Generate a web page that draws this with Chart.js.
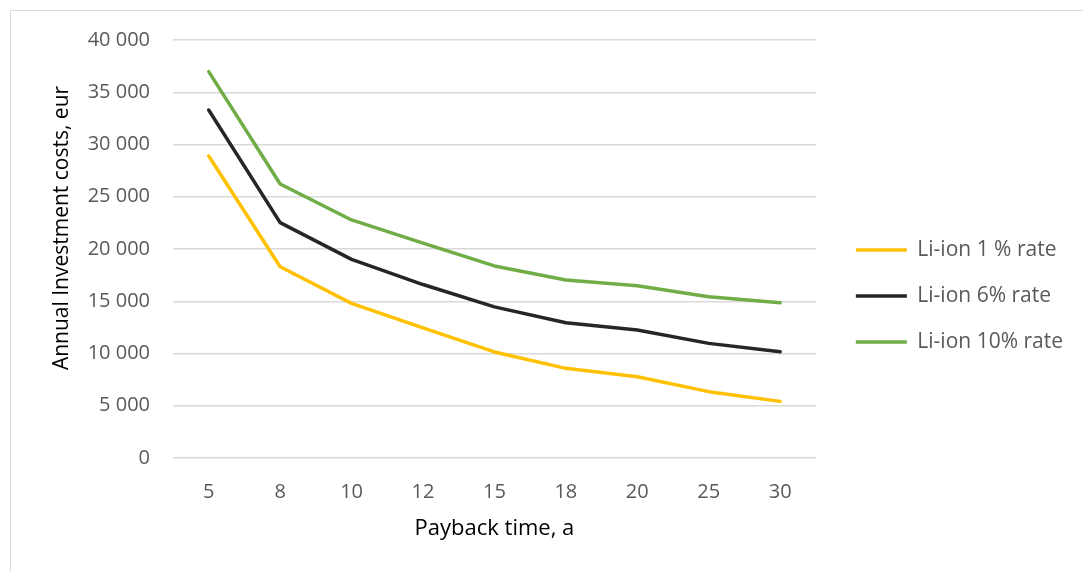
<!DOCTYPE html>
<html>
<head>
<meta charset="utf-8">
<script src="https://cdn.jsdelivr.net/npm/chart.js@4/dist/chart.umd.min.js"></script>
<style>
  html, body { margin: 0; padding: 0; background: #ffffff; }
  #wrap { position: relative; width: 1083px; height: 571px; overflow: hidden; }
  #frame { position: absolute; left: 10px; top: 10px; width: 1200px; height: 700px;
           border: 1.5px solid #d9d9d9; box-sizing: border-box; }
  #chart { position: absolute; left: 0; top: 0; }
</style>
</head>
<body>
<div id="wrap">
  <div id="frame"></div>
  <canvas id="chart" width="1083" height="571"></canvas>
</div>
<script>
// Payback period in years (category axis)
const paybackYears = ['5', '8', '10', '12', '15', '18', '20', '25', '30'];

// Annual investment costs, eur, for each interest rate
const liIon1 = [28900, 18300, 14800, 12450, 10150, 8580, 7780, 6350, 5420];
const liIon6 = [33300, 22520, 19010, 16600, 14460, 12950, 12250, 10970, 10170];
const liIon10 = [36970, 26220, 22780, 20560, 18380, 17040, 16480, 15430, 14860];

const seriesNames = ['Li-ion 1 % rate', 'Li-ion 6% rate', 'Li-ion 10% rate'];
const seriesColors = ['#FFC000', '#262626', '#70AD47'];

// Y axis: 0 .. 40 000 in steps of 5 000
const yMin = 0;
const yMax = 40000;
const yStep = 5000;

const FONT = "'Open Sans', 'Noto Sans', sans-serif";

function spaced(v) {
  return String(v).replace(/\B(?=(\d{3})+(?!\d))/g, ' ');
}

const seriesValues = [liIon1, liIon6, liIon10];

new Chart(document.getElementById('chart'), {
  type: 'line',
  data: {
    labels: paybackYears,
    datasets: seriesValues.map((vals, i) => ({
      label: seriesNames[i],
      data: vals,
      borderColor: seriesColors[i],
      backgroundColor: seriesColors[i],
      borderWidth: 3.5,
      borderCapStyle: 'round',
      borderJoinStyle: 'round',
      pointRadius: 0,
      pointHoverRadius: 0,
      tension: 0,
      fill: false
    }))
  },
  options: {
    responsive: false,
    animation: false,
    events: [],
    layout: { padding: { left: 48, top: 40, right: 10, bottom: 31 } },
    plugins: {
      tooltip: { enabled: false },
      legend: {
        position: 'right',
        align: 'center',
        maxWidth: 300,
        // small empty title: nudges the entries down a little
        title: { display: true, text: '', font: { size: 5 }, padding: 3 },
        labels: {
          usePointStyle: true,
          pointStyle: 'line',
          pointStyleWidth: 51,
          boxHeight: 21,
          color: '#595959',
          font: { family: FONT, size: 21 },
          padding: 25
        }
      }
    },
    scales: {
      x: {
        type: 'category',
        offset: true,
        grid: { display: false },
        border: { display: false },
        ticks: {
          color: '#595959',
          font: { family: FONT, size: 20 },
          padding: 14,
          maxRotation: 0
        },
        title: {
          display: true,
          text: 'Payback time, a',
          color: '#000000',
          font: { family: FONT, size: 22, lineHeight: 1.0 },
          padding: { top: 0, bottom: 0 }
        }
      },
      y: {
        min: yMin,
        max: yMax,
        grid: { color: '#d9d9d9', lineWidth: 1.5, drawTicks: false },
        border: { display: false },
        ticks: {
          stepSize: yStep,
          color: '#595959',
          font: { family: FONT, size: 20 },
          padding: 23,
          callback: (v) => spaced(v)
        },
        title: {
          display: true,
          // leading em spaces lift the rotated title slightly above the axis middle
          text: '\u2003\u2003Annual Investment costs, eur',
          color: '#000000',
          font: { family: FONT, size: 21, lineHeight: 1.0 },
          padding: { top: 4, bottom: 0 }
        },
        afterFit: (scale) => { scale.width = 125; }
      },
      // empty strip between the plot and the legend
      gap: {
        type: 'linear',
        position: 'right',
        display: true,
        grid: { display: false },
        border: { display: false },
        ticks: { display: false },
        afterFit: (scale) => { scale.width = 15; }
      }
    }
  }
});
</script>
</body>
</html>
